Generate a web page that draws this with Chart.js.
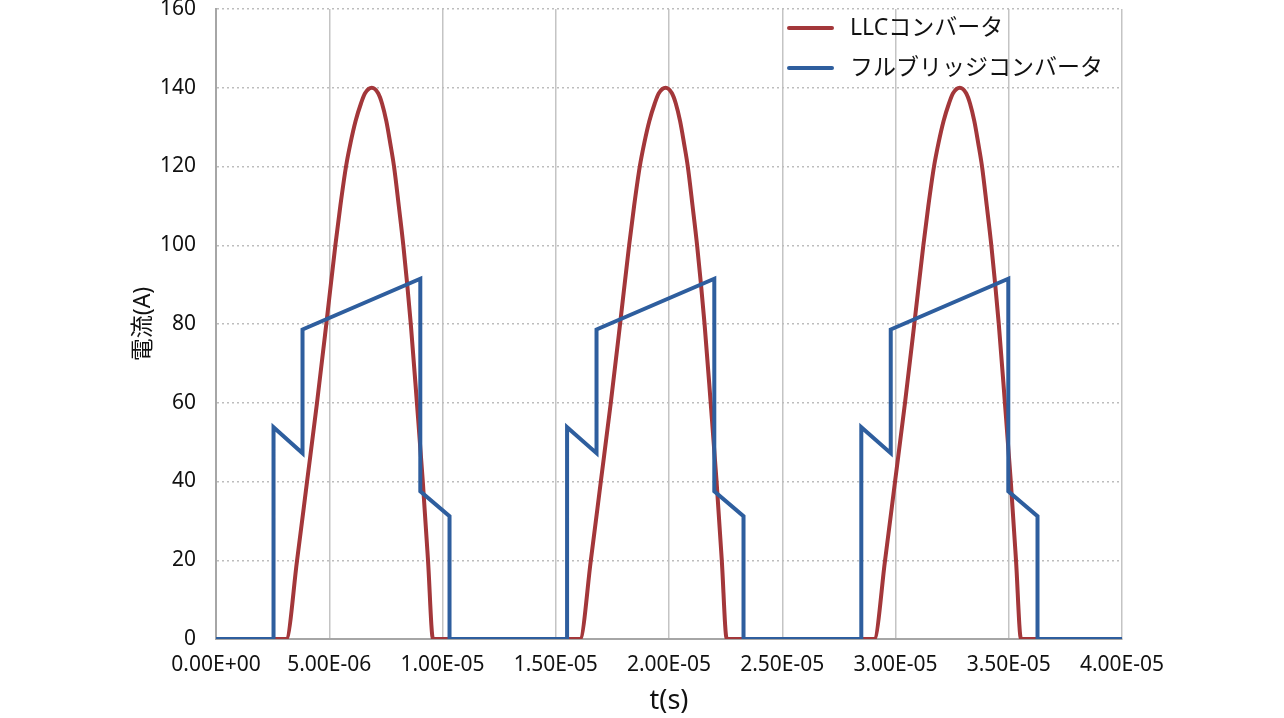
<!DOCTYPE html>
<html lang="ja">
<head>
<meta charset="utf-8">
<title>電流波形</title>
<script src="https://cdn.jsdelivr.net/npm/chart.js@4.4.1/dist/chart.umd.min.js"></script>
<style>
    html, body { margin: 0; padding: 0; background: #fff; }
    #wrap { width: 1284px; height: 718px; }
</style>
</head>
<body>
<div id="wrap"><canvas id="currentChart" width="1284" height="718"></canvas></div>
<script>
// time in microseconds, current in A
const llcTimeUs = [
    0,
    3.10, 3.58, 4.02, 4.46, 4.87, 5.27, 5.49, 5.74, 5.94, 6.16, 6.40, 6.58, 6.88, 7.16, 7.33, 7.52, 7.69, 7.86, 8.07, 8.27, 8.60, 8.87, 9.13, 9.36, 9.58,
    16.07, 16.55, 16.99, 17.43, 17.84, 18.24, 18.46, 18.71, 18.91, 19.13, 19.37, 19.55, 19.85, 20.13, 20.30, 20.49, 20.66, 20.83, 21.04, 21.24, 21.57, 21.84, 22.10, 22.33, 22.55,
    29.06, 29.54, 29.98, 30.42, 30.83, 31.23, 31.45, 31.70, 31.90, 32.12, 32.36, 32.54, 32.84, 33.12, 33.29, 33.48, 33.65, 33.82, 34.03, 34.23, 34.56, 34.83, 35.09, 35.32, 35.54,
    40
];
const llcCurrent = [
    0,
    0, 20, 40, 60, 80, 100, 110, 120, 126, 131.5, 136, 138.6, 140, 138.6, 136, 131.5, 126, 120, 110, 100, 80, 60, 40, 20, 0,
    0, 20, 40, 60, 80, 100, 110, 120, 126, 131.5, 136, 138.6, 140, 138.6, 136, 131.5, 126, 120, 110, 100, 80, 60, 40, 20, 0,
    0, 20, 40, 60, 80, 100, 110, 120, 126, 131.5, 136, 138.6, 140, 138.6, 136, 131.5, 126, 120, 110, 100, 80, 60, 40, 20, 0,
    0
];
const fbTimeUs = [
    0, 2.54, 2.54, 3.82, 3.82, 9.02, 9.02, 10.31, 10.31,
    15.50, 15.50, 16.80, 16.80, 22.00, 22.00, 23.29, 23.29,
    28.49, 28.49, 29.79, 29.79, 34.98, 34.98, 36.27, 36.27,
    40
];
const fbCurrent = [
    0, 0, 53.8, 47.2, 78.6, 91.5, 37.5, 31.2, 0,
    0, 53.8, 47.2, 78.6, 91.5, 37.5, 31.2, 0,
    0, 53.8, 47.2, 78.6, 91.5, 37.5, 31.2, 0,
    0
];
const seriesNames = ['LLCコンバータ', 'フルブリッジコンバータ'];
const xTickLabels = ['0.00E+00', '5.00E-06', '1.00E-05', '1.50E-05', '2.00E-05', '2.50E-05', '3.00E-05', '3.50E-05', '4.00E-05'];

const FONT = "'Noto Sans', 'Noto Sans CJK JP', sans-serif";
const RED = '#A3373A';
const BLUE = '#2E5E9E';

function toPoints(xs, ys) {
    return xs.map((x, i) => ({ x: x, y: ys[i] }));
}

// legend drawn inside the plot, top right
const innerLegend = {
    id: 'innerLegend',
    afterDraw(chart) {
        const ctx = chart.ctx;
        ctx.save();
        ctx.font = "23px " + FONT;
        ctx.textBaseline = 'middle';
        ctx.textAlign = 'left';
        [0, 1].forEach((i, row) => {
            const ds = chart.data.datasets[i];
            const y = 28 + row * 40;
            ctx.strokeStyle = ds.borderColor;
            ctx.lineWidth = 4;
            ctx.lineCap = 'round';
            ctx.beginPath();
            ctx.moveTo(789, y);
            ctx.lineTo(832, y);
            ctx.stroke();
            ctx.fillStyle = '#111';
            ctx.fillText(ds.label, 850, y);
        });
        ctx.restore();
    }
};

const ctx = document.getElementById('currentChart').getContext('2d');
new Chart(ctx, {
    type: 'line',
    data: {
        datasets: [{
            label: seriesNames[0],
            data: toPoints(llcTimeUs, llcCurrent),
            borderColor: RED,
            borderWidth: 4,
            pointRadius: 0,
            cubicInterpolationMode: 'monotone',
            order: 1
        }, {
            label: seriesNames[1],
            data: toPoints(fbTimeUs, fbCurrent),
            borderColor: BLUE,
            borderWidth: 4,
            pointRadius: 0,
            tension: 0,
            order: 0
        }]
    },
    options: {
        responsive: false,
        animation: false,
        layout: { padding: { left: 130, top: 9, right: 162, bottom: 0 } },
        plugins: {
            legend: { display: false },
            tooltip: { enabled: false }
        },
        scales: {
            x: {
                type: 'linear',
                min: 0,
                max: 40,
                afterFit: (scale) => { scale.height = 79; },
                ticks: {
                    stepSize: 5,
                    padding: 13,
                    color: '#111',
                    font: { family: FONT, size: 21 },
                    maxRotation: 0,
                    callback: (value, index) => xTickLabels[index]
                },
                grid: { color: '#C4C4C4', lineWidth: 1.5, drawTicks: false },
                border: { color: '#A6A6A6', width: 2 },
                title: {
                    display: true,
                    text: 't(s)',
                    color: '#111',
                    font: { family: FONT, size: 27 },
                    padding: { top: 0, bottom: 0 }
                }
            },
            y: {
                min: 0,
                max: 160,
                afterFit: (scale) => {
                    scale.width = 86;
                    scale.paddingTop = 0;
                    scale.paddingBottom = 0;
                },
                ticks: {
                    stepSize: 20,
                    padding: 20,
                    color: '#111',
                    font: { family: FONT, size: 21 }
                },
                grid: { color: '#BDBDBD', lineWidth: 1.5, drawTicks: false },
                border: { color: '#A6A6A6', width: 2, dash: [2, 3] },
                title: {
                    display: true,
                    text: '電流(A)',
                    color: '#111',
                    font: { family: FONT, size: 23 },
                    padding: { top: 0, bottom: 0 }
                }
            }
        }
    },
    plugins: [innerLegend]
});
</script>
</body>
</html>
